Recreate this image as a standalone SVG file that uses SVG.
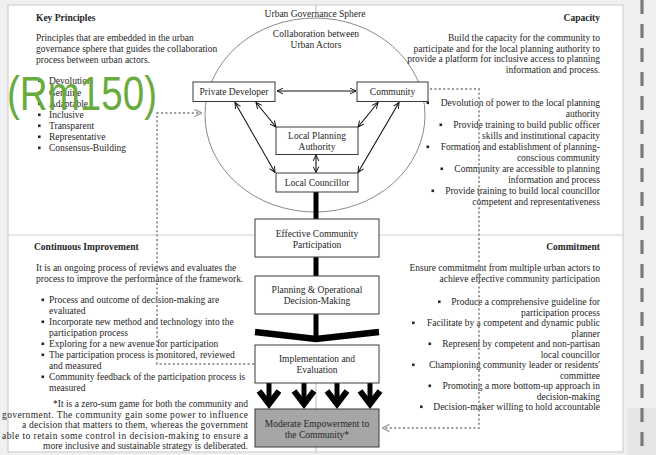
<svg xmlns="http://www.w3.org/2000/svg" width="656" height="455" viewBox="0 0 656 455">
<defs>
<style>
.t{font-family:"Liberation Serif","Times New Roman",serif;font-size:9.5px;fill:#262626}
.b{font-weight:bold}
.e{text-anchor:end}
.m{text-anchor:middle}
.box{fill:#fff;stroke:#3a3a3a;stroke-width:1}
.con{stroke:#111;stroke-width:1.1;fill:none;marker-start:url(#ah);marker-end:url(#ah)}
.thick{stroke:#000;stroke-width:5;fill:none}
.dot{stroke:#9a9a9a;stroke-width:2;stroke-dasharray:2 2.4;fill:none;marker-end:url(#ga)}
.bu{fill:#262626}
.big{stroke:#000;fill:none}
</style>
<marker id="ah" viewBox="0 0 10 10" refX="9.5" refY="5" markerWidth="7" markerHeight="7" markerUnits="userSpaceOnUse" orient="auto-start-reverse"><path d="M1,1 L9.5,5 L1,9" fill="none" stroke="#111" stroke-width="1.4"/></marker>
<marker id="ga" viewBox="0 0 10 10" refX="9.5" refY="5" markerWidth="9" markerHeight="9" markerUnits="userSpaceOnUse" orient="auto"><path d="M1,1 L9.5,5 L1,9" fill="none" stroke="#a5a5a5" stroke-width="1.6"/></marker>
</defs>
<rect x="0" y="0" width="656" height="455" fill="#eff0f2"/>
<rect x="627" y="408" width="29" height="47" fill="#e4e5e7"/>
<line x1="642" y1="0" x2="642" y2="455" stroke="#7a7a7a" stroke-width="3.2" stroke-dasharray="14 10"/>
<rect x="8" y="5" width="615" height="447" fill="#fff" stroke="#d0d0d0" stroke-width="1.2"/>
<line x1="8" y1="235" x2="623" y2="235" stroke="#cfcfcf" stroke-width="1.2"/>
<line x1="316" y1="5" x2="316" y2="13" stroke="#bdbdbd" stroke-width="1"/>
<line x1="316" y1="383" x2="316" y2="452" stroke="#bdbdbd" stroke-width="1"/>

<g id="sphere">
<ellipse cx="315" cy="115" rx="110" ry="97" fill="none" stroke="#8a8a8a" stroke-width="1"/>
<text class="t m" x="315" y="17">Urban Governance Sphere</text>
<text class="t m" x="316" y="37">Collaboration between</text>
<text class="t m" x="316" y="48">Urban Actors</text>
</g>

<g id="key-principles">
<text class="t b" x="36" y="21">Key Principles</text>
<text class="t" x="36" y="41">Principles that are embedded in the urban</text>
<text class="t" x="36" y="52">governance sphere that guides the collaboration</text>
<text class="t" x="36" y="63">process between urban actors.</text>
<rect class="bu" x="38" y="79.5" width="2.6" height="2.6"/><text class="t" x="49" y="84">Devolution</text>
<rect class="bu" x="38" y="91.5" width="2.6" height="2.6"/><text class="t" x="49" y="96">Genuine</text>
<rect class="bu" x="38" y="102.5" width="2.6" height="2.6"/><text class="t" x="49" y="107">Adaptable</text>
<rect class="bu" x="38" y="113.5" width="2.6" height="2.6"/><text class="t" x="49" y="118">Inclusive</text>
<rect class="bu" x="38" y="124.5" width="2.6" height="2.6"/><text class="t" x="49" y="129">Transparent</text>
<rect class="bu" x="38" y="135.5" width="2.6" height="2.6"/><text class="t" x="49" y="140">Representative</text>
<rect class="bu" x="38" y="146.5" width="2.6" height="2.6"/><text class="t" x="49" y="151">Consensus-Building</text>
</g>

<g id="capacity">
<text class="t b e" x="600" y="21">Capacity</text>
<text class="t e" x="600" y="41">Build the capacity for the community to</text>
<text class="t e" x="600" y="51.5">participate and for the local planning authority to</text>
<text class="t e" x="600" y="62">provide a platform for inclusive access to planning</text>
<text class="t e" x="600" y="72.5">information and process.</text>
<rect class="bu" x="426.5" y="101.5" width="2.6" height="2.6"/><text class="t e" x="600" y="106">Devolution of power to the local planning</text>
<text class="t e" x="600" y="117">authority</text>
<rect class="bu" x="439.5" y="123.5" width="2.6" height="2.6"/><text class="t e" x="600" y="128">Provide training to build public officer</text>
<text class="t e" x="600" y="139">skills and institutional capacity</text>
<rect class="bu" x="426.5" y="145.5" width="2.6" height="2.6"/><text class="t e" x="600" y="150">Formation and establishment of planning-</text>
<text class="t e" x="600" y="161">conscious community</text>
<rect class="bu" x="440.5" y="167.5" width="2.6" height="2.6"/><text class="t e" x="600" y="172">Community are accessible to planning</text>
<text class="t e" x="600" y="183">information and process</text>
<rect class="bu" x="431.5" y="189.5" width="2.6" height="2.6"/><text class="t e" x="600" y="194">Provide training to build local councillor</text>
<text class="t e" x="600" y="205">competent and representativeness</text>
</g>

<g id="continuous-improvement">
<text class="t b" x="34" y="250">Continuous Improvement</text>
<text class="t" x="36" y="271">It is an ongoing process of reviews and evaluates the</text>
<text class="t" x="36" y="282">process to improve the performance of the framework.</text>
<rect class="bu" x="41.5" y="298.5" width="2.6" height="2.6"/><text class="t" x="49" y="303">Process and outcome of decision-making are</text>
<text class="t" x="49" y="314">evaluated</text>
<rect class="bu" x="41.5" y="320.5" width="2.6" height="2.6"/><text class="t" x="49" y="325">Incorporate new method and technology into the</text>
<text class="t" x="49" y="336">participation process</text>
<rect class="bu" x="41.5" y="342.5" width="2.6" height="2.6"/><text class="t" x="49" y="347">Exploring for a new avenue for participation</text>
<rect class="bu" x="41.5" y="353.5" width="2.6" height="2.6"/><text class="t" x="49" y="358">The participation process is monitored, reviewed</text>
<text class="t" x="49" y="369">and measured</text>
<rect class="bu" x="41.5" y="375.5" width="2.6" height="2.6"/><text class="t" x="49" y="380">Community feedback of the participation process is</text>
<text class="t" x="49" y="391">measured</text>
<text class="t e" x="248" y="407">*It is a zero-sum game for both the community and</text>
<text class="t" x="2" y="417.5" textLength="246" lengthAdjust="spacing">government. The community gain some power to influence</text>
<text class="t" x="22" y="428" textLength="226" lengthAdjust="spacing">a decision that matters to them, whereas the government</text>
<text class="t" x="2" y="438.5" textLength="246" lengthAdjust="spacing">able to retain some control in decision-making to ensure a</text>
<text class="t e" x="248" y="449">more inclusive and sustainable strategy is deliberated.</text>
</g>

<g id="commitment">
<text class="t b e" x="600" y="250">Commitment</text>
<text class="t e" x="600" y="271">Ensure commitment from multiple urban actors to</text>
<text class="t e" x="600" y="282">achieve effective community participation</text>
<rect class="bu" x="438" y="300.5" width="2.6" height="2.6"/><text class="t e" x="600" y="305">Produce a comprehensive guideline for</text>
<text class="t e" x="600" y="315.5">participation process</text>
<rect class="bu" x="412" y="321.5" width="2.6" height="2.6"/><text class="t e" x="600" y="326">Facilitate by a competent and dynamic public</text>
<text class="t e" x="600" y="336.5">planner</text>
<rect class="bu" x="428.5" y="342.5" width="2.6" height="2.6"/><text class="t e" x="600" y="347">Represent by competent and non-partisan</text>
<text class="t e" x="600" y="357.5">local councillor</text>
<rect class="bu" x="412" y="363.5" width="2.6" height="2.6"/><text class="t e" x="600" y="368">Championing community leader or residents'</text>
<text class="t e" x="600" y="378.5">committee</text>
<rect class="bu" x="428.5" y="384.5" width="2.6" height="2.6"/><text class="t e" x="600" y="389">Promoting a more bottom-up approach in</text>
<text class="t e" x="600" y="399.5">decision-making</text>
<rect class="bu" x="420" y="405.5" width="2.6" height="2.6"/><text class="t e" x="600" y="410">Decision-maker willing to hold accountable</text>
</g>

<g id="connectors">
<line class="con" x1="277" y1="91" x2="356" y2="91"/>
<line class="con" x1="235" y1="102.5" x2="275" y2="172.5"/>
<line class="con" x1="256" y1="102.5" x2="276" y2="127"/>
<line class="con" x1="378" y1="102.5" x2="358" y2="127"/>
<line class="con" x1="399" y1="102.5" x2="358" y2="172.5"/>
<line class="con" x1="316" y1="155" x2="316" y2="172.5"/>
<line class="thick" x1="316" y1="192" x2="316" y2="219"/>
<line class="thick" x1="316" y1="257" x2="316" y2="276"/>
<line class="thick" x1="316" y1="314" x2="316" y2="336"/>
<polyline class="big" stroke-width="6.5" points="255,332 316,339 379,332"/>
<g class="big">
<line x1="269" y1="383" x2="269" y2="402" stroke-width="5"/><polyline points="259,391 269,404 279,391" stroke-width="6"/>
<line x1="304" y1="383" x2="304" y2="402" stroke-width="5"/><polyline points="294,391 304,404 314,391" stroke-width="6"/>
<line x1="337" y1="383" x2="337" y2="402" stroke-width="5"/><polyline points="327,391 337,404 347,391" stroke-width="6"/>
<line x1="370" y1="383" x2="370" y2="402" stroke-width="5"/><polyline points="360,391 370,404 380,391" stroke-width="6"/>
</g>
<path class="dot" d="M254,364 H157 V113 H202"/>
<path class="dot" d="M430,89 H479 V428 H382"/>
</g>

<g id="private-developer"><rect class="box" x="193" y="82" width="82" height="19.5"/><text class="t m" x="234" y="94.5">Private Developer</text></g>
<g id="community"><rect class="box" x="357" y="82" width="71" height="19.5"/><text class="t m" x="392.5" y="94.5">Community</text></g>
<g id="local-planning-authority"><rect class="box" x="276" y="127" width="82" height="27.5"/><text class="t m" x="317" y="139">Local Planning</text><text class="t m" x="317" y="150">Authority</text></g>
<g id="local-councillor"><rect class="box" x="276" y="173" width="82" height="19"/><text class="t m" x="317" y="186">Local Councillor</text></g>
<g id="effective-participation"><rect class="box" x="255" y="219" width="124" height="38"/><text class="t m" x="317" y="236.5">Effective Community</text><text class="t m" x="317" y="247.5">Participation</text></g>
<g id="planning-decision"><rect class="box" x="255" y="276" width="124" height="38"/><text class="t m" x="317" y="293">Planning &amp; Operational</text><text class="t m" x="317" y="304">Decision-Making</text></g>
<g id="implementation"><rect class="box" x="255" y="345" width="124" height="38"/><text class="t m" x="317" y="362">Implementation and</text><text class="t m" x="317" y="373">Evaluation</text></g>
<g id="moderate-empowerment"><rect class="box" x="255" y="409" width="124" height="38" style="fill:#a6a6a6"/><text class="t m" x="317" y="427">Moderate Empowerment to</text><text class="t m" x="317" y="438">the Community*</text></g>

<text x="7" y="110" font-family="'Liberation Sans',Arial,sans-serif" font-size="49" fill="#6aab3e" textLength="150" lengthAdjust="spacingAndGlyphs">(Rm150)</text>
</svg>
